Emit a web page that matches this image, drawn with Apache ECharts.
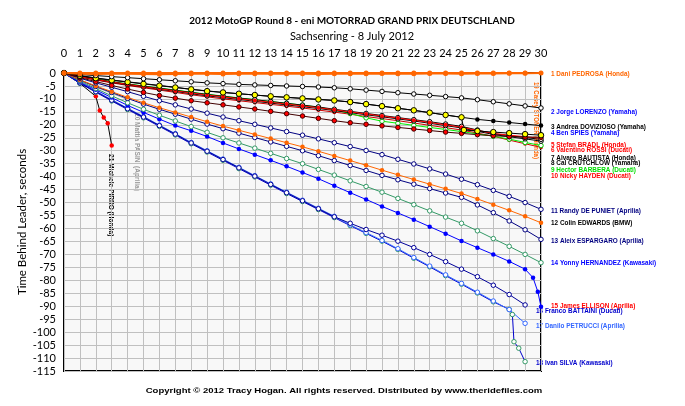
<!DOCTYPE html>
<html>
<head>
<meta charset="utf-8">
<script src="https://cdn.jsdelivr.net/npm/echarts@6/dist/echarts.min.js"></script>
<style>
html, body { margin: 0; padding: 0; background: #fff; }
#chart { width: 685px; height: 406px; }
</style>
</head>
<body>
<div id="chart"></div>
<script>
// gap to the leader (seconds) at the end of each lap, lap 0..30
var pedrosa   = [0,-0.3,-0.4,-0.3,-0.3,-0.4,-0.5,-0.4,-0.3,-0.3,-0.4,-0.3,-0.3,-0.2,-0.3,-0.3,-0.4,-0.3,-0.3,-0.3,-0.2,-0.3,-0.3,-0.2,-0.2,-0.3,-0.2,-0.2,-0.1,-0.1,0];
var stoner    = [0,0,0,0,0,0,0,0,0,0,0,0,0,0,0,0,0,0,0,0,0,0,0,0,0,0,0,0,0,0,null];
var lorenzo   = [0,-0.6,-1.0,-1.4,-1.8,-2.2,-2.6,-3.0,-3.4,-3.8,-4.1,-4.4,-4.6,-4.8,-5.0,-5.2,-5.4,-5.7,-6.1,-6.6,-7.1,-7.6,-8.1,-8.6,-9.1,-9.6,-10.3,-11.1,-11.9,-12.7,-13.5];
var dovizioso = [0,-1.0,-1.9,-2.7,-3.4,-4.1,-4.8,-5.5,-6.3,-6.9,-7.5,-8.0,-8.5,-9.0,-9.4,-9.8,-10.2,-10.6,-11.2,-12.0,-12.8,-13.6,-14.4,-15.3,-16.2,-17.1,-17.9,-18.5,-19.1,-19.7,-20.3];
var spies     = [0,-1.1,-2.0,-2.8,-3.5,-4.2,-4.9,-5.6,-6.3,-7.0,-7.5,-8.0,-8.5,-9.0,-9.4,-9.8,-10.2,-10.6,-11.2,-12.0,-12.8,-13.6,-14.4,-15.3,-16.2,-17.1,-22.4,-22.8,-23.2,-23.6,-24.0];
var spiesDrop = [[25.15,-22.0]];
var bradl     = [0,-1.8,-3.3,-4.8,-6.2,-7.5,-8.7,-9.7,-10.7,-11.5,-12.3,-13.1,-13.9,-14.8,-15.7,-16.6,-17.5,-18.4,-19.2,-19.8,-20.4,-21.0,-21.6,-22.2,-22.8,-23.3,-23.8,-24.2,-24.5,-24.7,-24.8];
var rossi     = [0,-1.4,-2.5,-3.5,-4.4,-5.3,-6.1,-6.9,-7.7,-8.5,-9.2,-9.9,-10.6,-11.3,-12.0,-12.7,-13.4,-14.2,-15.0,-15.8,-16.6,-17.4,-18.2,-19.1,-20.0,-20.9,-22.2,-23.3,-24.0,-24.6,-25.2];
var bautista  = [0,-1.3,-2.4,-3.4,-4.3,-5.1,-5.9,-6.7,-7.5,-8.3,-9.0,-9.7,-10.3,-11.0,-11.7,-12.4,-13.1,-14.0,-14.8,-15.6,-16.4,-17.2,-18.0,-18.8,-19.7,-20.6,-22.0,-23.4,-24.2,-24.9,-25.6];
var crutchlow = [0,-1.4,-2.6,-3.6,-4.6,-5.4,-6.3,-7.1,-8.0,-8.8,-9.5,-10.2,-10.9,-11.6,-12.3,-13.0,-13.7,-14.5,-15.3,-16.1,-16.9,-17.7,-18.5,-19.4,-20.3,-21.2,-22.5,-23.7,-24.6,-25.4,-26.3];
var barbera   = [0,-1.2,-2.3,-3.3,-4.2,-5.0,-5.8,-6.6,-7.4,-8.2,-8.9,-9.6,-10.3,-11.0,-11.7,-12.4,-13.2,-14.3,-15.6,-17.3,-18.6,-19.4,-20.2,-21.0,-21.8,-22.6,-23.5,-24.4,-25.5,-26.8,-28.0];
var hayden    = [0,-1.5,-2.7,-3.8,-4.8,-5.7,-6.6,-7.5,-8.4,-9.2,-10.0,-10.7,-11.4,-12.1,-12.8,-13.5,-14.3,-15.1,-15.9,-16.8,-17.6,-18.4,-19.3,-20.2,-21.1,-22.0,-23.2,-24.4,-25.9,-27.3,-28.7];
var dePuniet  = [0,-2.0,-3.8,-5.5,-7.2,-9.0,-10.7,-12.3,-13.9,-15.5,-17.0,-18.4,-19.8,-21.2,-22.6,-24.0,-25.4,-26.9,-28.4,-29.9,-31.5,-33.3,-35.1,-37.0,-39.0,-41.0,-43.1,-45.3,-47.6,-50.0,-52.6];
var edwards   = [0,-2.6,-5.0,-7.2,-9.4,-11.5,-13.4,-15.2,-17.0,-18.8,-20.5,-22.1,-23.7,-25.3,-26.9,-28.5,-30.2,-32.0,-33.8,-35.6,-37.5,-39.3,-41.1,-42.9,-44.7,-46.5,-48.6,-50.8,-53.0,-55.3,-57.8];
var espargaro = [0,-2.7,-5.2,-7.5,-9.8,-12.0,-14.0,-15.9,-17.8,-19.7,-21.5,-23.2,-24.9,-26.6,-28.3,-30.0,-31.9,-33.8,-35.7,-37.6,-39.5,-41.2,-42.9,-44.6,-46.3,-48.0,-50.9,-53.9,-57.1,-60.5,-64.2];
var hernandez = [0,-3.1,-6.0,-8.8,-11.5,-14.0,-16.3,-18.5,-20.7,-22.9,-25.0,-27.0,-29.0,-31.0,-33.0,-35.0,-37.2,-39.4,-41.6,-43.8,-46.0,-48.4,-50.8,-53.2,-55.6,-58.0,-60.9,-63.9,-66.9,-70.0,-73.2];
var ellison   = [0,-3.5,-6.5,-9.5,-12.5,-15.2,-17.8,-20.3,-22.3,-24.5,-27.0,-29.3,-31.5,-33.7,-36.0,-38.4,-40.8,-43.5,-46.2,-48.8,-51.5,-54.0,-56.6,-59.3,-62.0,-64.8,-67.4,-70.0,-72.7,-75.7,-90.2];
var ellisonLast = [[29.5,-79.0],[29.8,-84.4]];
var battaini  = [0,-3.8,-7.2,-10.5,-13.8,-17.0,-20.3,-23.6,-27.0,-30.2,-33.4,-36.6,-39.8,-43.0,-46.2,-49.3,-52.4,-55.5,-58.0,-60.4,-62.6,-64.9,-67.4,-70.0,-72.8,-75.7,-78.6,-81.9,-85.5,-89.5,null];
var petrucci  = [0,-3.7,-7.0,-10.3,-13.6,-16.8,-20.1,-23.4,-26.8,-30.0,-33.2,-36.4,-39.6,-42.8,-46.0,-49.1,-52.2,-55.3,-58.6,-61.6,-64.6,-67.8,-71.2,-74.5,-77.9,-81.2,-84.6,-88.0,-91.3,-96.6,null];
var silva     = [0,-4.0,-7.4,-10.8,-14.1,-17.3,-20.6,-23.9,-27.3,-30.5,-33.7,-36.9,-40.1,-43.3,-46.5,-49.6,-52.7,-55.8,-58.9,-61.9,-64.9,-68.1,-71.5,-74.8,-78.2,-81.5,-84.9,-88.3,-91.2,-111.4,null];
var silvaDrop = [[28.2,-93.2],[28.3,-103.7],[28.6,-106.2]];
var pirro     = [[0,0],[1,-4.0],[2,-9.0],[2.25,-14.5],[2.5,-17.2],[2.75,-19.4],[3,-28.0]];
var pasini    = [[0,0],[1,-2.8],[2,-5.4],[3,-7.8],[4,-10.2]];

var lapTicks = [0,1,2,3,4,5,6,7,8,9,10,11,12,13,14,15,16,17,18,19,20,21,22,23,24,25,26,27,28,29,30];

var finishers = [
    {t:'1 Dani PEDROSA (Honda)', c:'#ff6600', y:74},
    {t:'2 Jorge LORENZO (Yamaha)', c:'#0000ff', y:112},
    {t:'3 Andrea DOVIZIOSO (Yamaha)', c:'#000000', y:126.5},
    {t:'4 Ben SPIES (Yamaha)', c:'#0000ff', y:132.5},
    {t:'5 Stefan BRADL (Honda)', c:'#ff0000', y:145},
    {t:'6 Valentino ROSSI (Ducati)', c:'#ff0000', y:150},
    {t:'7 Alvaro BAUTISTA (Honda)', c:'#000000', y:157.5},
    {t:'8 Cal CRUTCHLOW (Yamaha)', c:'#000000', y:162.5},
    {t:'9 Hector BARBERA (Ducati)', c:'#00dd00', y:170},
    {t:'10 Nicky HAYDEN (Ducati)', c:'#ff0000', y:175.5},
    {t:'11 Randy DE PUNIET (Aprilia)', c:'#000080', y:210.5},
    {t:'12 Colin EDWARDS (BMW)', c:'#000000', y:223},
    {t:'13 Aleix ESPARGARO (Aprilia)', c:'#000080', y:240.5},
    {t:'14 Yonny HERNANDEZ (Kawasaki)', c:'#0000ff', y:263},
    {t:'15 James ELLISON (Aprilia)', c:'#ff0000', y:306},
    {t:'16 Franco BATTAINI (Ducati)', c:'#0000cc', y:310.5, x:536},
    {t:'17 Danilo PETRUCCI (Aprilia)', c:'#3366ff', y:325.5, x:536},
    {t:'18 Ivan SILVA (Kawasaki)', c:'#0000cc', y:362.5, x:536}
];

function pts(vals, extra) {
    var out = [];
    vals.forEach(function (v, i) { if (v !== null) out.push([i, v]); });
    if (extra) out = out.concat(extra);
    out.sort(function (a, b) { return a[0] - b[0]; });
    return out;
}

function line(name, data, fill, edge, lineColor, size, width) {
    return {
        name: name, type: 'line', data: data,
        symbol: 'circle', symbolSize: size || 4.5,
        itemStyle: { color: fill, borderColor: edge, borderWidth: edge ? 1 : 0 },
        lineStyle: { color: lineColor, width: width || 1 },
        emphasis: { disabled: true }, silent: true, animation: false
    };
}

var series = [
    line('Pasini', pasini, '#ffffff', '#999999', '#999999'),
    line('Pirro', pirro, '#ff0000', null, '#000000'),
    line('Silva', pts(silva, silvaDrop), '#ffffff', '#339966', '#0000cc'),
    line('Petrucci', pts(petrucci), '#ffffff', '#3366ff', '#3366ff'),
    line('Battaini', pts(battaini), '#ffffff', '#000099', '#000099'),
    line('Ellison', pts(ellison, ellisonLast), '#0000ff', null, '#0000ff'),
    line('Hernandez', pts(hernandez), '#ffffff', '#339966', '#339966'),
    line('Espargaro', pts(espargaro), '#ffffff', '#000080', '#000080'),
    line('Edwards', pts(edwards), '#ff6600', null, '#ff6600'),
    line('De Puniet', pts(dePuniet), '#ffffff', '#000080', '#000080'),
    line('Hayden', pts(hayden), '#cc0000', null, '#cc0000', 4),
    line('Barbera', pts(barbera), '#ffffff', '#00cc00', '#00ee00'),
    line('Crutchlow', pts(crutchlow), '#ffffff', '#000000', '#000000'),
    line('Bautista', pts(bautista), '#ffffff', '#000000', '#000000'),
    line('Rossi', pts(rossi), '#ff0000', null, '#ff0000', 4),
    line('Bradl', pts(bradl), '#ff0000', '#400000', '#400000'),
    line('Dovizioso', pts(dovizioso), '#000000', null, '#000000'),
    line('Spies', pts(spies, spiesDrop), '#ffff00', '#000000', '#000000', 5.5),
    line('Lorenzo', pts(lorenzo), '#ffffff', '#000000', '#000000'),
    line('Stoner', pts(stoner), '#ff6600', null, '#ff6600', 5, 2),
    line('Pedrosa', pts(pedrosa), '#ff6600', null, '#ff6600', 5, 2)
];

var labelFont = 'bold 8px "Liberation Sans"';
var graphics = [];
finishers.forEach(function (f) {
    graphics.push({
        type: 'text', x: f.x || 551, y: f.y, scaleX: 0.8, silent: true,
        style: { text: f.t, fill: f.c, font: labelFont, align: 'left', verticalAlign: 'middle' }
    });
});
// retired riders, written down the page
[
    {t:'19 Casey STONER (Honda)', c:'#ff6600', x:536.5, y:82, s:0.75},
    {t:'20 Mattia PASINI (Aprilia)', c:'#999999', x:137, y:113, s:0.82},
    {t:'21 Michele PIRRO (Honda)', c:'#000000', x:111, y:154, s:0.82}
].forEach(function (f) {
    graphics.push({
        type: 'text', x: f.x, y: f.y, rotation: -Math.PI / 2, scaleX: f.s, silent: true,
        style: { text: f.t, fill: f.c, font: labelFont, align: 'left', verticalAlign: 'middle' }
    });
});
graphics.push({
    type: 'text', x: 344, y: 391, scaleX: 1.19, silent: true,
    style: { text: 'Copyright \u00a9 2012 Tracy Hogan. All rights reserved. Distributed by www.theridefiles.com',
             fill: '#000', font: 'bold 8px "Liberation Sans"', align: 'center', verticalAlign: 'middle' }
});

var chart = echarts.init(document.getElementById('chart'));
chart.setOption({
    backgroundColor: '#ffffff',
    animation: false,
    title: {
        text: '2012 MotoGP Round 8 - eni MOTORRAD GRAND PRIX DEUTSCHLAND',
        subtext: 'Sachsenring - 8 July 2012',
        left: 347, top: 11, textAlign: 'center', itemGap: 5,
        textStyle: { fontFamily: 'Lato', fontSize: 10, fontWeight: 'bold', color: '#000' },
        subtextStyle: { fontFamily: 'Lato', fontSize: 11, color: '#000' }
    },
    grid: {
        left: 64, right: 144, top: 73, bottom: 35,
        show: true, backgroundColor: '#f8f8f8', borderColor: '#000', borderWidth: 2
    },
    xAxis: {
        type: 'value', position: 'top', min: 0, max: 30, interval: 1,
        axisLine: { show: false }, axisTick: { show: false },
        axisLabel: {
            margin: 14, fontFamily: 'Lato', fontSize: 11, color: '#000',
            formatter: function (v) { return lapTicks.indexOf(v) >= 0 ? String(v) : ''; }
        },
        splitLine: { lineStyle: { color: '#c0c0c0', width: 1 } }
    },
    yAxis: {
        type: 'value', min: -115, max: 0, interval: 5,
        name: 'Time Behind Leader, seconds', nameLocation: 'middle', nameGap: 36, nameRotate: 90,
        nameMoveOverlap: false,
        nameTextStyle: { fontFamily: 'Lato', fontSize: 11.5, color: '#000' },
        axisLine: { show: false }, axisTick: { show: false },
        axisLabel: { margin: 8, fontFamily: 'Lato', fontSize: 11, color: '#000' },
        splitLine: { lineStyle: { color: '#c0c0c0', width: 1 } }
    },
    graphic: graphics,
    series: series
});
</script>
</body>
</html>
